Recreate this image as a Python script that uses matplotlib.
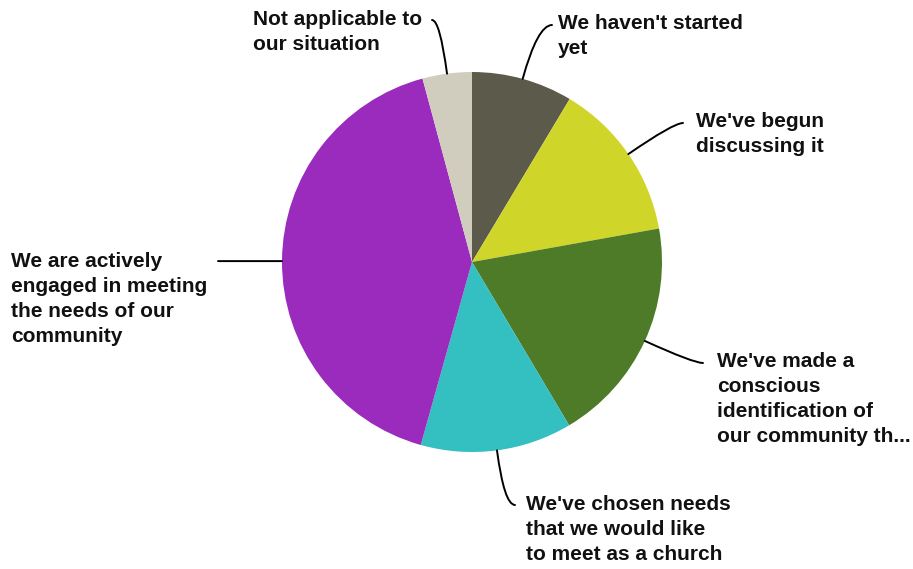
import matplotlib
matplotlib.use("Agg")
import matplotlib.pyplot as plt
import numpy as np

W, H = 913, 569

labels = [
    "We haven't started\nyet",
    "We've begun\ndiscussing it",
    "We've made a\nconscious\nidentification of\nour community th...",
    "We've chosen needs\nthat we would like\nto meet as a church",
    "We are actively\nengaged in meeting\nthe needs of our\ncommunity",
    "Not applicable to\nour situation",
]
shares = [8.6, 13.6, 19.3, 12.9, 41.5, 4.2]
colors = ["#5c5a4a", "#d0d52a", "#4e7b28", "#34bfc1", "#9a2bbd", "#d0cdbe"]

# end of each leader line and first-line baseline of its label, in pixels from top-left
line_ends = [(552, 25), (683, 123), (703, 363), (515, 505), (218, 262), (432, 20)]
text_pos = [(558, 29), (696, 127), (717, 367), (526, 510), (11, 267), (253, 25)]
line_step = 25

cx, cy, r = 472, 262, 190


def to_data(px, py):
    return (px - cx) / r, (cy - py) / r


fig = plt.figure(figsize=(W / 100, H / 100), dpi=100)
ax = fig.add_axes([(cx - r) / W, (H - cy - r) / H, 2 * r / W, 2 * r / H])
wedges, _ = ax.pie(shares, colors=colors, startangle=90, counterclock=False,
                   radius=1, wedgeprops=dict(linewidth=0))
ax.set_xlim(-1, 1)
ax.set_ylim(-1, 1)
ax.axis("off")

font = dict(family="Liberation Sans", fontweight="bold", fontsize=15, color="#111111")

for w, label, end, tpos in zip(wedges, labels, line_ends, text_pos):
    mid = np.deg2rad((w.theta1 + w.theta2) / 2)
    edge = (np.cos(mid), np.sin(mid))
    ang = np.rad2deg(mid) % 360
    start = to_data(*end)
    if abs(np.sin(mid)) < 0.05:
        # nearly horizontal slice: plain straight leader
        style = "arc3,rad=0"
        start = (start[0], edge[1])
    else:
        style = f"angle3,angleA=0,angleB={ang:.1f}"
    ax.annotate("", xy=edge, xytext=start, xycoords="data", textcoords="data",
                arrowprops=dict(arrowstyle="-", color="black", lw=1.4,
                                shrinkA=0, shrinkB=0, connectionstyle=style),
                annotation_clip=False)
    # each line drawn on its own baseline so the spacing stays fixed
    for i, line in enumerate(label.split("\n")):
        y = tpos[1] + i * line_step
        fig.text(tpos[0] / W, 1 - y / H, line, ha="left", va="baseline", **font)

fig.savefig("out.png", dpi=100)
